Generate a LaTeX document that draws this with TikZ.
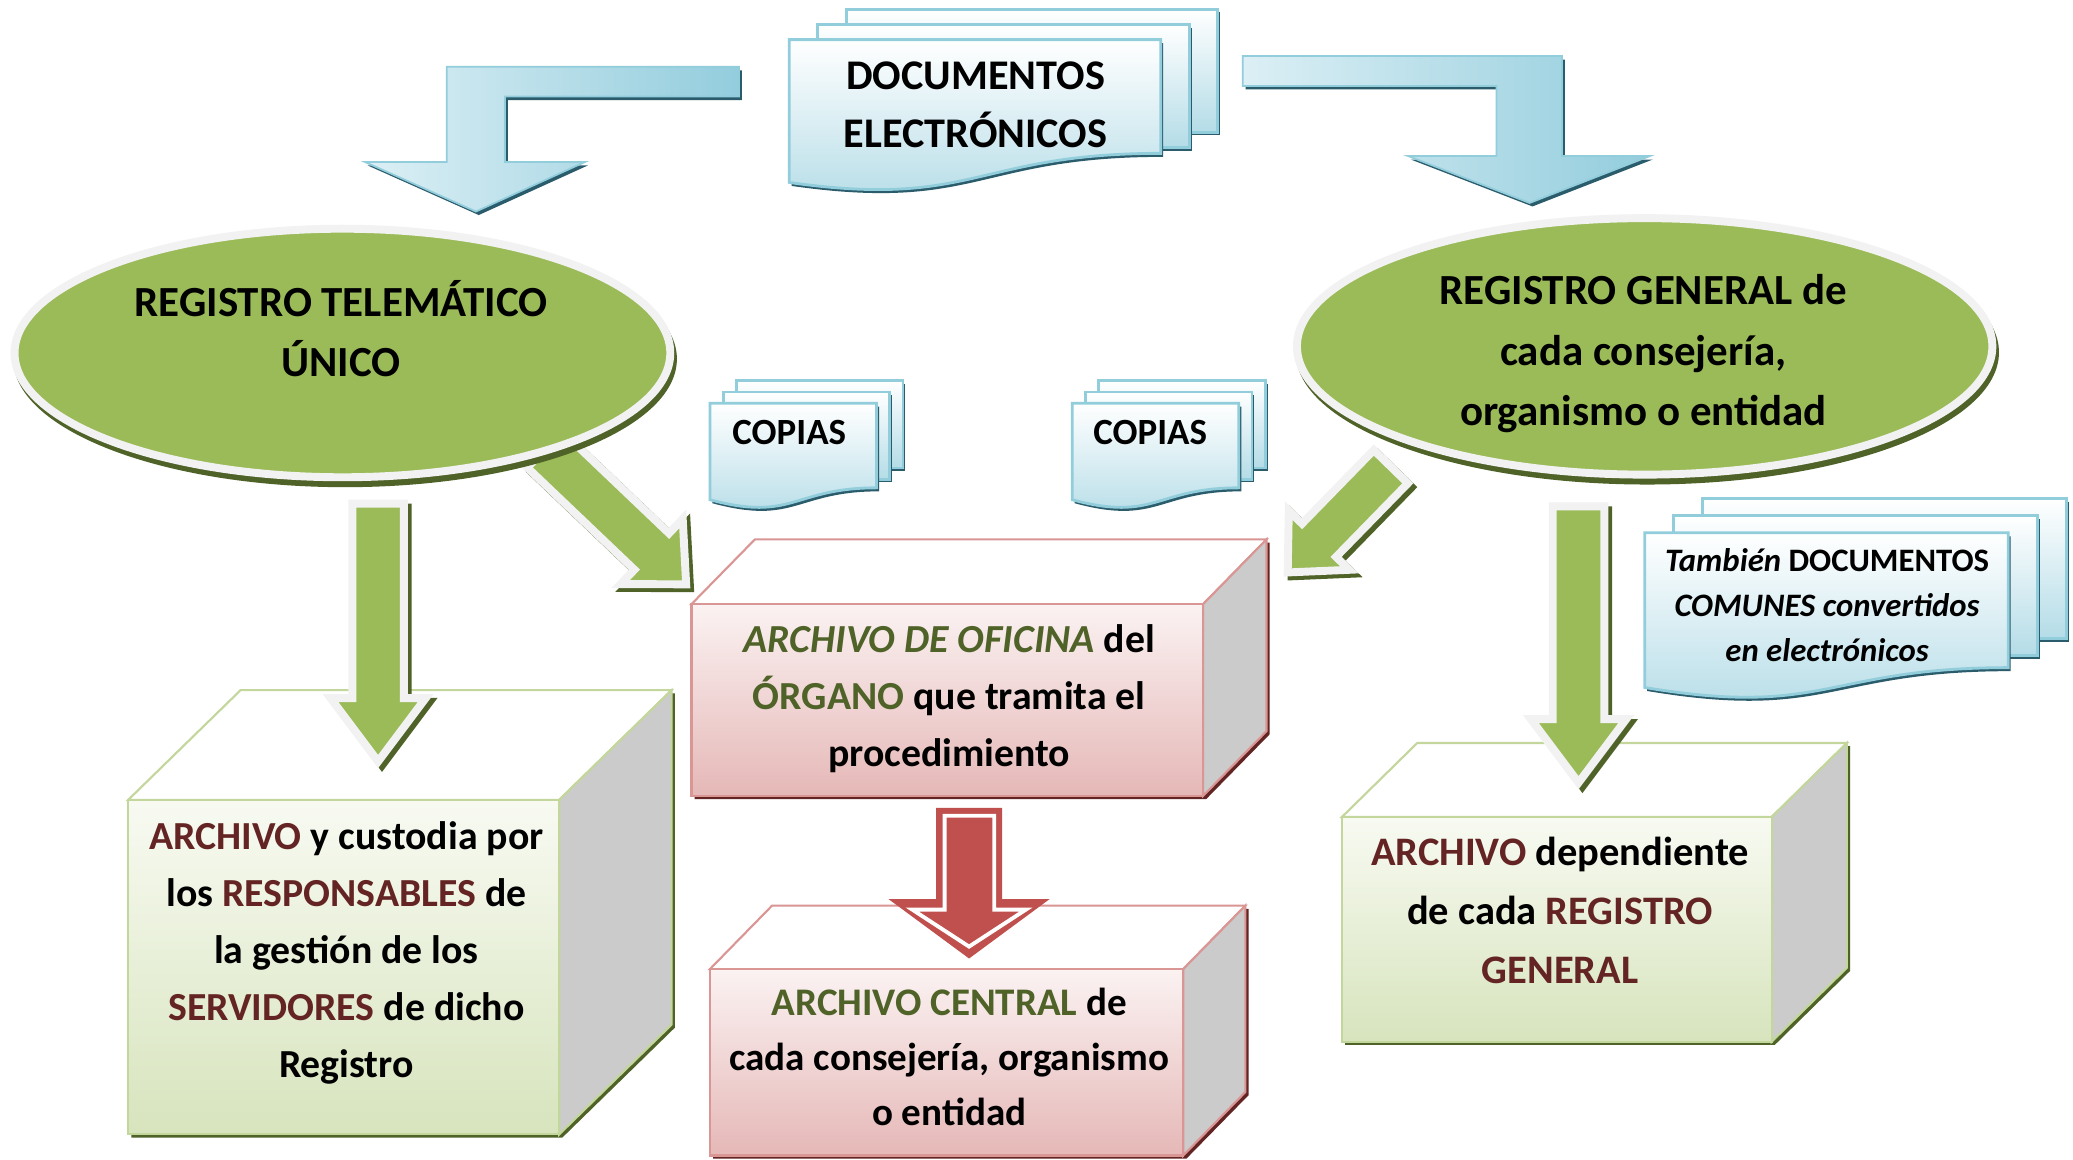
\documentclass[tikz,border=0pt]{standalone}
\usepackage{fontspec}
\setmainfont{Carlito}
\usetikzlibrary{calc,shapes.geometric}
\newcommand\upx{0.0132cm}
\definecolor{cGreen}{HTML}{9BBB59}
\definecolor{cGreenDark}{HTML}{4F6228}
\definecolor{cRim}{HTML}{F2F2F2}
\definecolor{cBlueL}{HTML}{DCEFF5}
\definecolor{cBlueD}{HTML}{93CDDD}
\definecolor{cTealDark}{HTML}{2A5C6C}
\definecolor{cBlueBorder}{HTML}{92CDDC}
\definecolor{cDocBot}{HTML}{B4DCE7}
\definecolor{cRed}{HTML}{C0504D}
\definecolor{cPinkTop}{HTML}{FBF2F2}
\definecolor{cPinkBot}{HTML}{E5B8B7}
\definecolor{cPinkBorder}{HTML}{D99694}
\definecolor{cDarkRed}{HTML}{632523}
\definecolor{cGTop}{HTML}{F8FAF2}
\definecolor{cGBot}{HTML}{D7E4BD}
\definecolor{cGBorder}{HTML}{C3D69B}
\definecolor{cTxtRed}{HTML}{632423}
\definecolor{cSide}{HTML}{CBCBCB}
\tikzset{
  ellT/.style={font=\bfseries\fontsize{12.2}{17.2}\selectfont, align=center, inner sep=0pt},
  boxT/.style={font=\bfseries\fontsize{11.3}{16.2}\selectfont, align=center, inner sep=0pt},
  docT/.style={font=\bfseries\fontsize{12}{16.5}\selectfont, align=center, inner sep=0pt},
  copT/.style={font=\bfseries\fontsize{10.5}{13}\selectfont, align=center, inner sep=0pt},
  tamT/.style={font=\bfseries\fontsize{9.3}{12.8}\selectfont, align=center, inner sep=0pt},
  docPage/.style={draw=cBlueBorder, line width=0.8pt, top color=white, bottom color=cDocBot},
  gFront/.style={draw=cGBorder, line width=0.6pt, top color=cGTop, bottom color=cGBot, inner sep=0pt, outer sep=0pt},
  gTopFace/.style={draw=cGBorder, line width=0.6pt, fill=white},
  gSideFace/.style={draw=cGBorder, line width=0.6pt, fill=cSide},
  gShadow/.style={fill=cGreenDark},
  rFront/.style={draw=cPinkBorder, line width=0.6pt, top color=cPinkTop, bottom color=cPinkBot, inner sep=0pt, outer sep=0pt},
  rTopFace/.style={draw=cPinkBorder, line width=0.6pt, fill=white},
  rSideFace/.style={draw=cPinkBorder, line width=0.6pt, fill=cSide},
  rShadow/.style={fill=cDarkRed},
  blueArrow/.style={draw=cBlueBorder, line width=0.5pt, left color=cBlueL, right color=cBlueD},
}
% green block arrow: start, end, shaft half width, head half width, head length (in px)
\newcommand\garrow[5]{%
  \coordinate (ga-s) at (#1);
  \coordinate (ga-e) at (#2);
  \coordinate (ga-h) at ($(ga-e)!#5*\upx!(ga-s)$);
  \coordinate (ga-1) at ($(ga-s)!#3*\upx!90:(ga-e)$);
  \coordinate (ga-2) at ($(ga-h)!#3*\upx!90:(ga-e)$);
  \coordinate (ga-3) at ($(ga-h)!#4*\upx!90:(ga-e)$);
  \coordinate (ga-4) at ($(ga-h)!#4*\upx!-90:(ga-e)$);
  \coordinate (ga-5) at ($(ga-h)!#3*\upx!-90:(ga-e)$);
  \coordinate (ga-6) at ($(ga-s)!#3*\upx!-90:(ga-e)$);
  \begin{scope}[transform canvas={shift={(1.1pt,-1.1pt)}}]
    \filldraw[cGreenDark, line width=2.25pt] (ga-1) -- (ga-2) -- (ga-3) -- (ga-e) -- (ga-4) -- (ga-5) -- (ga-6) -- cycle;
  \end{scope}
  \filldraw[fill=cGreen, draw=cRim, line width=2.25pt] (ga-1) -- (ga-2) -- (ga-3) -- (ga-e) -- (ga-4) -- (ga-5) -- (ga-6) -- cycle;
}
% multi document: x0, y0 (front top-left), front width, dx, dy, page height, front right h, front left h, control depth
\newcommand\mdoc[9]{%
  \begin{scope}[transform canvas={shift={(0.7pt,-0.9pt)}}]
    \fill[cTealDark] ({#1+2*#4},{#2-2*#5}) rectangle ({#1+2*#4+#3},{#2-2*#5+#6});
  \end{scope}
  \filldraw[docPage] ({#1+2*#4},{#2-2*#5}) rectangle ({#1+2*#4+#3},{#2-2*#5+#6});
  \begin{scope}[transform canvas={shift={(0.7pt,-0.9pt)}}]
    \fill[cTealDark] ({#1+#4},{#2-#5}) rectangle ({#1+#4+#3},{#2-#5+#6});
  \end{scope}
  \filldraw[docPage] ({#1+#4},{#2-#5}) rectangle ({#1+#4+#3},{#2-#5+#6});
  \begin{scope}[transform canvas={shift={(0.7pt,-1.0pt)}}]
    \fill[cTealDark] (#1,#2) -- ({#1+#3},#2) -- ({#1+#3},{#2+#7}) .. controls ({#1+#3/2},{#2+#7}) and ({#1+#3/2},{#2+#9}) .. (#1,{#2+#8}) -- cycle;
  \end{scope}
  \filldraw[docPage] (#1,#2) -- ({#1+#3},#2) -- ({#1+#3},{#2+#7}) .. controls ({#1+#3/2},{#2+#7}) and ({#1+#3/2},{#2+#9}) .. (#1,{#2+#8}) -- cycle;
}
% cube: name, x1, y1, x2, y2 (front face), dx, dy (depth), prefix
\newcommand\cube[8]{%
  \begin{scope}[transform canvas={shift={(0.9pt,-0.9pt)}}]
    \fill[#8Shadow] (#2,#5) -- (#2,#3) -- ({#2+#6},{#3-#7}) -- ({#4+#6},{#3-#7}) -- ({#4+#6},{#5-#7}) -- (#4,#5) -- cycle;
  \end{scope}
  \filldraw[#8TopFace] (#2,#3) -- ({#2+#6},{#3-#7}) -- ({#4+#6},{#3-#7}) -- (#4,#3) -- cycle;
  \filldraw[#8SideFace] (#4,#3) -- ({#4+#6},{#3-#7}) -- ({#4+#6},{#5-#7}) -- (#4,#5) -- cycle;
  \node[#8Front, anchor=north west, minimum width=(#4-#2)*\upx, minimum height=(#5-#3)*\upx] (#1) at (#2,#3) {};
}
\begin{document}
\begin{tikzpicture}[x=0.0132cm, y=-0.0132cm, line join=miter]
\useasboundingbox (0,0) rectangle (1568,877.4);
\fill[white] (0,0) rectangle (1568,877.4);

% blue bent arrows
\begin{scope}[transform canvas={shift={(0.8pt,-1.0pt)}}]
  \fill[cTealDark] (559,50.5) -- (338,50.5) -- (338,122.5) -- (276,122.5) -- (360,160) -- (442.5,122.5) -- (382,122.5) -- (382,73) -- (559,73) -- cycle;
  \fill[cTealDark] (940,42.4) -- (1181.5,42.4) -- (1181.5,118) -- (1248,118) -- (1157,153.5) -- (1065,118) -- (1132,118) -- (1132,65) -- (940,65) -- cycle;
\end{scope}
\filldraw[blueArrow] (559,50.5) -- (338,50.5) -- (338,122.5) -- (276,122.5) -- (360,160) -- (442.5,122.5) -- (382,122.5) -- (382,73) -- (559,73) -- cycle;
\filldraw[blueArrow] (940,42.4) -- (1181.5,42.4) -- (1181.5,118) -- (1248,118) -- (1157,153.5) -- (1065,118) -- (1132,118) -- (1132,65) -- (940,65) -- cycle;

% documentos electronicos
\mdoc{597}{30}{281}{21.5}{11.5}{93}{86}{108}{128}
\node[docT] (docs) at (738,79.5) {DOCUMENTOS\\ELECTRÓNICOS};

% diagonal green arrows (under ellipses)
\garrow{412,340}{519,442}{19}{34}{36}
\garrow{1052,353}{974,433}{18}{32}{34}

% ellipses
\fill[cGreenDark] (261,271.5) ellipse [x radius=251, y radius=97];
\node[ellipse, draw=cRim, fill=cGreen, line width=2.25pt, minimum width=496*\upx, minimum height=188*\upx, inner sep=0pt] (regT) at (259,267) {};
\node[ellT] (regTt) at (258,248.5) {REGISTRO TELEMÁTICO\\ÚNICO};

\fill[cGreenDark] (1246,266.5) ellipse [x radius=266, y radius=100];
\node[ellipse, draw=cRim, fill=cGreen, line width=2.25pt, minimum width=526*\upx, minimum height=194*\upx, inner sep=0pt] (regG) at (1244,262) {};
\node[ellT] (regGt) at (1243,267.5) {REGISTRO GENERAL de\\cada consejería,\\organismo o entidad};

% copias
\mdoc{537}{305}{126}{10}{8.5}{66}{64}{73}{90}
\node[copT] (copL) at (597,327) {COPIAS};
\mdoc{811}{305}{126}{10}{8.5}{66}{64}{73}{90}
\node[copT] (copR) at (870,327) {COPIAS};

% tambien documentos comunes
\mdoc{1244}{403}{275}{22}{13}{106}{102}{117}{140}
\node[tamT] (tam) at (1382,458) {{\itshape También} DOCUMENTOS\\{\itshape COMUNES convertidos}\\{\itshape en electrónicos}};

% boxes
\cube{boxM}{523}{457}{910}{602}{48}{49}{r}
\node[boxT] (boxMt) at (718,528.5) {{\color{cGreenDark}\itshape ARCHIVO DE OFICINA} del\\{\color{cGreenDark}ÓRGANO} que tramita el\\procedimiento};

\cube{boxC}{537}{733}{895}{874}{47}{48}{r}
\node[boxT, font=\bfseries\fontsize{11.1}{15.6}\selectfont] (boxCt) at (718,799.5) {{\color{cGreenDark}ARCHIVO CENTRAL} de\\cada consejería, organismo\\o entidad};

\cube{boxL}{97}{605}{423}{858}{85}{83}{g}
\node[boxT] (boxLt) at (262,720.5) {{\color{cTxtRed}ARCHIVO} y custodia por\\los {\color{cTxtRed}RESPONSABLES} de\\la gestión de los\\{\color{cTxtRed}SERVIDORES} de dicho\\Registro};

\cube{boxR}{1015}{618}{1340}{788}{57}{56}{g}
\node[boxT, font=\bfseries\fontsize{11.5}{16.8}\selectfont] (boxRt) at (1180,688.5) {{\color{cTxtRed}ARCHIVO} dependiente\\de cada {\color{cTxtRed}REGISTRO}\\{\color{cTxtRed}GENERAL}};

% vertical green arrows
\garrow{286,381}{286,576}{19.5}{36}{48}
\garrow{1194,383}{1194,592}{19.5}{36}{48}

% red arrow
\fill[cRed] (708,611) -- (758,611) -- (758,680) -- (794,680) -- (733,725) -- (672,680) -- (708,680) -- cycle;
\draw[white, line width=1.1pt] (714.5,617) -- (752,617) -- (752,688) -- (776,688) -- (733,716) -- (690,688) -- (714.5,688) -- cycle;
\end{tikzpicture}
\end{document}
